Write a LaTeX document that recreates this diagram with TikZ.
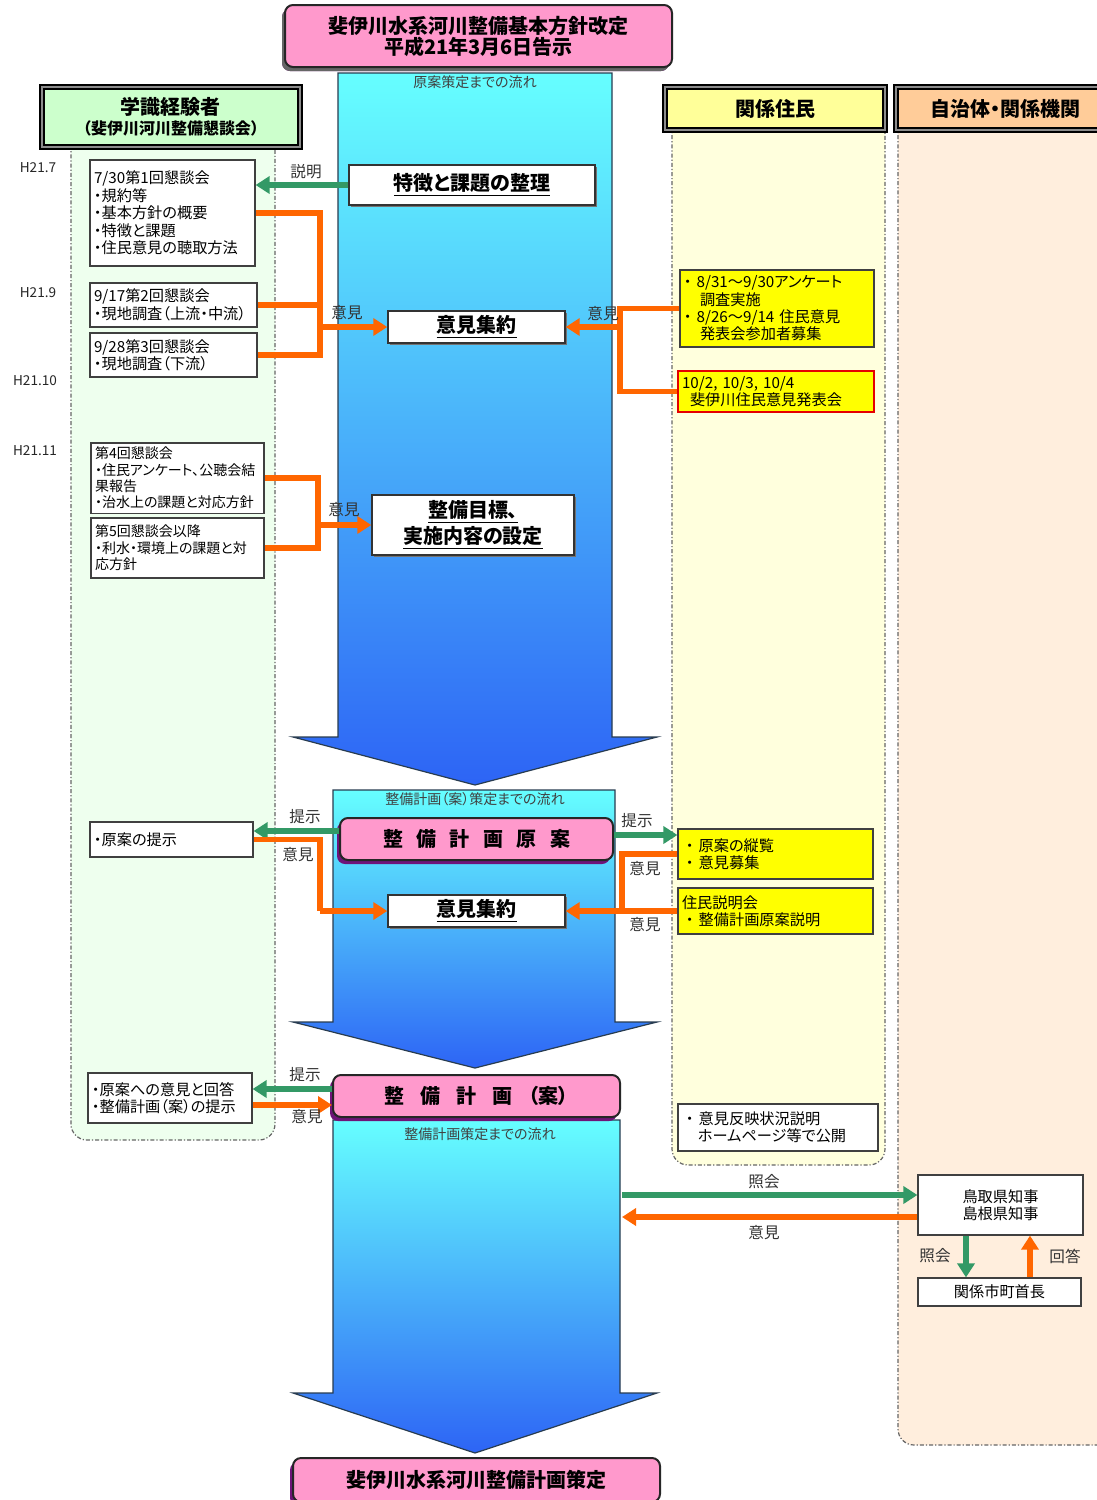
\documentclass[tikz,border=0pt]{standalone}
\usepackage{fontspec}
\setmainfont{Noto Sans CJK JP}[RawFeature=+palt]
\usetikzlibrary{arrows.meta,shadows,calc}
\definecolor{pinkc}{RGB}{255,153,204}
\definecolor{purpc}{RGB}{110,20,120}
\definecolor{cyanA}{RGB}{102,255,255}
\definecolor{cyanM}{RGB}{75,205,255}
\definecolor{blueA}{RGB}{45,100,245}
\definecolor{grn}{RGB}{51,153,102}
\definecolor{org}{RGB}{255,102,0}
\definecolor{yel}{RGB}{255,255,0}
\definecolor{hdrG}{RGB}{204,255,204}
\definecolor{hdrY}{RGB}{255,255,153}
\definecolor{hdrO}{RGB}{255,204,153}
\definecolor{colG}{RGB}{238,255,238}
\definecolor{colY}{RGB}{255,255,221}
\definecolor{colO}{RGB}{255,238,221}
\definecolor{edgeB}{RGB}{40,60,80}
\newcommand\szS{\fontsize{7.6}{8.7}\selectfont}
\newcommand\szB{\fontsize{7}{8.2}\selectfont}
\newcommand\szN{\fontsize{7.8}{9}\selectfont}
\newcommand\szXS{\fontsize{7}{8}\selectfont}
\newcommand\szTM{\fontsize{6.8}{8}\selectfont}
\newcommand\szL{\fontsize{10}{11}\selectfont}
\newcommand\szT{\fontsize{10}{10.5}\selectfont}
\newcommand\szM{\fontsize{8}{9}\selectfont}
\begin{document}
\begin{tikzpicture}[x=0.5pt,y=-0.5pt,
 wbox/.style={draw=black!75, fill=white, line width=0.6pt, inner sep=2pt, align=left, font=\szS},
 ybox/.style={wbox, fill=yel},
 cbox/.style={draw=black!80, fill=white, line width=0.7pt, inner sep=0pt,
   drop shadow={shadow xshift=1.2pt, shadow yshift=-1.2pt, fill=black!55, opacity=1},
   font=\bfseries\szL, align=center},
 hdr/.style={draw=black, line width=0.7pt, double=black!45, double distance=1.2pt, inner sep=0pt, font=\bfseries\szL, align=center},
 pinkb/.style={draw=black!85, line width=1pt, fill=pinkc, rounded corners=4pt, inner sep=0pt, font=\bfseries\szL, align=center,
   drop shadow={shadow xshift=-1.5pt, shadow yshift=-2pt, fill=purpc, opacity=1}},
 gline/.style={draw=grn, line width=2.6pt},
 garrow/.style={gline, -{Triangle[length=7pt,width=8.5pt]}},
 oline/.style={draw=org, line width=2.6pt},
 oarrow/.style={oline, -{Triangle[length=7pt,width=8.5pt]}},
 lbl/.style={font=\szN, text=black!80, inner sep=1pt},
 flow/.style={font=\szXS, text=black!75, inner sep=1pt},
 tlbl/.style={font=\szTM, text=black!85, inner sep=1pt},
 col/.style={draw=black!60, line width=0.6pt, dash pattern=on 2pt off 1pt on 0.6pt off 1pt, rounded corners=8pt},
 barrow/.style={top color=cyanA, middle color=cyanM, bottom color=blueA, draw=edgeB, line width=0.6pt}
]
\useasboundingbox (0,0) rectangle (1097,1500);
\fill[white] (0,0) rectangle (1097,1500);

% column backgrounds
\path[col, fill=colG] (71,120) rectangle (275,1140);
\path[col, fill=colY] (672,110) rectangle (885,1165);
\path[col, fill=colO] (898,110) rectangle (1120,1445);

% big blue flow arrows
\shadedraw[barrow] (338,73) -- (612,73) -- (612,737) -- (657,737) -- (475,785) -- (293,737) -- (338,737) -- cycle;
\shadedraw[barrow] (333,790) -- (615,790) -- (615,1022) -- (657,1022) -- (475,1068) -- (293,1022) -- (333,1022) -- cycle;
\shadedraw[barrow] (333,1120) -- (620,1120) -- (620,1393) -- (657,1393) -- (475,1453) -- (293,1393) -- (333,1393) -- cycle;
\node[flow] (f1) at (475,82) {原案策定までの流れ};
\node[flow] (f2) at (475,799) {整備計画（案）策定までの流れ};
\node[flow] (f3) at (480,1134) {整備計画策定までの流れ};

% title
\node[pinkb, minimum width=193.5pt, minimum height=31pt, font=\bfseries\szT,
  drop shadow={shadow xshift=-1.5pt, shadow yshift=-2pt, fill=black!60, opacity=1}] (T) at (478.5,36)
  {斐伊川水系河川整備基本方針改定\\平成21年3月6日告示};

% headers
\node[hdr, fill=hdrG, minimum width=129pt, minimum height=30pt] (H1) at (171,117)
  {学識経験者\\[-1pt]{\szM （斐伊川河川整備懇談会）}};
\node[hdr, fill=hdrY, minimum width=110pt, minimum height=21.5pt] (H2) at (775,108.5) {関係住民};
\node[hdr, fill=hdrO, minimum width=109.5pt, minimum height=21.5pt] (H3) at (1005.5,108.5) {自治体・関係機関};

% time labels
\node[tlbl] (t1) at (38,168) {H21.7};
\node[tlbl] (t2) at (38,293) {H21.9};
\node[tlbl] (t3) at (35,381) {H21.10};
\node[tlbl] (t4) at (35,451) {H21.11};

% left boxes
\node[wbox, text width=78.5pt, minimum height=53pt] (B1) at (172.5,213)
  {7/30第1回懇談会\\・規約等\\・基本方針の概要\\・特徴と課題\\・住民意見の聴取方法};
\node[wbox, text width=79.5pt, minimum height=22pt] (B2) at (173.5,305)
  {9/17第2回懇談会\\・現地調査（上流・中流）};
\node[wbox, text width=79.5pt, minimum height=22pt] (B3) at (173.5,355)
  {9/28第3回懇談会\\・現地調査（下流）};
\node[wbox, font=\szB, text width=82.5pt, minimum height=35pt] (B4) at (177.5,478)
  {第4回懇談会\\・住民アンケート、公聴会結\\果報告\\・治水上の課題と対応方針};
\node[wbox, font=\szB, text width=82.5pt, minimum height=30pt] (B5) at (177.5,548)
  {第5回懇談会以降\\・利水・環境上の課題と対\\応方針};
\node[wbox, text width=77.5pt, minimum height=17.5pt] (B6) at (171.5,839.5) {・原案の提示};
\node[wbox, text width=78pt, minimum height=25pt] (B7) at (170,1098)
  {・原案への意見と回答\\・整備計画（案）の提示};

% centre boxes
\node[cbox, minimum width=123pt, minimum height=20pt] (C1) at (472,185) {\underline{特徴と課題の整理}};
\node[cbox, minimum width=88.5pt, minimum height=16pt] (C2) at (476.5,327) {\underline{意見集約}};
\node[cbox, minimum width=101pt, minimum height=30pt] (C3) at (473,525) {\underline{整備目標、}\\\underline{実施内容の設定}};
\node[pinkb, minimum width=136.5pt, minimum height=21pt] (C4) at (476.5,839)
  {整\hspace{6.7pt}備\hspace{6.7pt}計\hspace{6.7pt}画\hspace{6.7pt}原\hspace{6.7pt}案};
\node[cbox, minimum width=88.5pt, minimum height=16pt] (C5) at (476.5,911) {\underline{意見集約}};
\node[pinkb, minimum width=143.5pt, minimum height=21pt] (C6) at (476.5,1096)
  {整\hspace{8pt}備\hspace{8pt}計\hspace{8pt}画\hspace{8pt}（案）};
\node[pinkb, minimum width=183.5pt, minimum height=22pt] (C7) at (476.5,1480) {斐伊川水系河川整備計画策定};

% right boxes
\node[ybox, text width=93pt, minimum height=38.5pt] (R1) at (777,308.5)
  {・ 8/31～9/30アンケート\\\hspace{8pt}調査実施\\・ 8/26～9/14 住民意見\\\hspace{8pt}発表会参加者募集};
\node[ybox, draw=red!90!black, line width=1.3pt, text width=94pt, minimum height=20.5pt] (R2) at (776,391.5)
  {10/2, 10/3, 10/4\\\hspace{4pt}斐伊川住民意見発表会};
\node[ybox, text width=93.5pt, minimum height=25pt] (R3) at (775.5,854)
  {\hspace{2pt}・ 原案の縦覧\\\hspace{2pt}・ 意見募集};
\node[ybox, text width=93.5pt, minimum height=23pt] (R4) at (775.5,911)
  {住民説明会\\\hspace{2pt}・ 整備計画原案説明};
\node[wbox, text width=96pt, minimum height=23.5pt] (R5) at (778,1127.5)
  {\hspace{2pt}・ 意見反映状況説明\\\hspace{8pt}ホームページ等で公開};
\node[wbox, align=center, text width=78.5pt, minimum height=30pt] (R6) at (1000.5,1205)
  {鳥取県知事\\島根県知事};
\node[wbox, align=center, text width=77.5pt, minimum height=14pt] (R7) at (999.5,1292) {関係市町首長};

% connectors: first stage
\draw[garrow] (C1.west) -- (C1.west -| B1.east);
\coordinate (J1) at (320,327);
\draw[oline] (B1.east) -| (J1);
\draw[oline] (B2.east) -| (J1);
\draw[oline] (B3.east) -| (J1);
\draw[oarrow] (J1) -- (C2.west);
\coordinate (J2) at (620,327);
\draw[oline] (R1.west) -| (J2);
\draw[oline] (R2.west) -| (J2);
\draw[oarrow] (J2) -- (C2.east);
\coordinate (J3) at (318,525);
\draw[oline] (B4.east) -| (J3);
\draw[oline] (B5.east) -| (J3);
\draw[oarrow] (J3) -- (C3.west);

% second stage
\draw[garrow] ([yshift=4pt]C4.west) -- ([yshift=4pt]C4.west -| B6.east);
\coordinate (J4) at (320,911);
\draw[oline] (B6.east) -| (J4);
\draw[oarrow] (J4) -- (C5.west);
\draw[garrow] ([yshift=2pt]C4.east) -- ([yshift=2pt]C4.east -| R3.west);
\coordinate (J5) at (622,911);
\draw[oline] (R3.west) -| (J5);
\draw[oarrow] (R4.west) -- (C5.east);

% third stage
\draw[garrow] ([yshift=3.5pt]C6.west) -- ([yshift=3.5pt]C6.west -| B7.east);
\draw[oarrow] ([yshift=-3.5pt]B7.east) -- ([yshift=-3.5pt]B7.east -| C6.west);
\coordinate (A3g) at (622,1195);
\coordinate (A3o) at (622,1217);
\draw[garrow] (A3g) -- (A3g -| R6.west);
\draw[oarrow] (A3o -| R6.west) -- (A3o);
\draw[garrow] ([xshift=-17.25pt]R6.south) -- ([xshift=-17.25pt]R6.south |- R7.north);
\draw[oarrow] ([xshift=14.75pt]R6.south |- R7.north) -- ([xshift=14.75pt]R6.south);

% connector labels
\node[lbl] (l1) at (306,172) {説明};
\node[lbl] (l2) at (347,313) {意見};
\node[lbl] (l3) at (603,314) {意見};
\node[lbl] (l4) at (344,510) {意見};
\node[lbl] (l5) at (305,817) {提示};
\node[lbl] (l6) at (298,855) {意見};
\node[lbl] (l7) at (637,821) {提示};
\node[lbl] (l8) at (645,869) {意見};
\node[lbl] (l9) at (645,925) {意見};
\node[lbl] (l10) at (305,1075) {提示};
\node[lbl] (l11) at (307,1117) {意見};
\node[lbl] (l12) at (764,1182) {照会};
\node[lbl] (l13) at (764,1233) {意見};
\node[lbl] (l14) at (935,1256) {照会};
\node[lbl] (l15) at (1065,1256) {回答};
\end{tikzpicture}
\end{document}
